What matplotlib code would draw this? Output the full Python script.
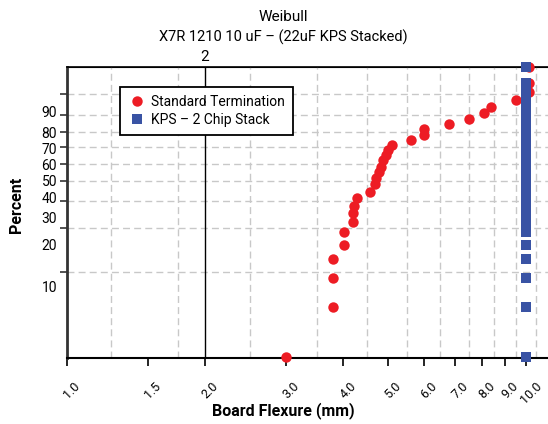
import numpy as np
import matplotlib.pyplot as plt
from matplotlib.ticker import NullFormatter, NullLocator
from matplotlib.transforms import ScaledTranslation

plt.rcParams['font.family'] = ['Roboto', 'DejaVu Sans']

# Median-rank percent values (same ranks used for both series)
percent = [3.03, 7.16, 11.54, 15.74, 19.80, 24.12, 28.05, 32.02, 35.68, 39.83,
           43.17, 47.63, 51.10, 54.85, 58.43, 62.76, 66.00, 69.21, 72.40, 75.47,
           78.46, 81.68, 84.34, 86.80, 89.47, 92.03, 94.19, 96.16, 97.90, 99.40]

# Board flexure at failure (mm)
std_flex = [3.00, 3.80, 3.80, 3.80, 4.01, 4.01, 4.20, 4.20, 4.21, 4.29,
            4.58, 4.68, 4.70, 4.78, 4.83, 4.88, 4.95, 4.99, 5.11, 5.61,
            5.99, 5.99, 6.80, 7.52, 8.11, 8.36, 9.52, 10.15, 10.15, 10.15]
kps_flex = [10.0, 10.0, 10.0, 10.0, 10.0, 10.0, 10.0, 10.0, 10.0, 10.0,
            10.0, 10.0, 10.0, 10.0, 10.0, 10.0, 10.0, 10.0, 10.0, 10.0,
            10.0, 10.0, 10.0, 10.0, 10.0, 10.0, 10.0, 10.0, 10.0, 10.0]

x_ticks = [1.0, 1.5, 2.0, 3.0, 4.0, 5.0, 6.0, 7.0, 8.0, 9.0, 10.0]
x_grid = [1.25, 1.5, 1.75, 2.5, 3.0, 3.5, 4.0, 4.5, 5.0, 5.5, 6.0, 6.5,
          7.0, 7.5, 8.0, 8.5, 9.0, 9.5, 10.0, 10.5]
y_labels = [10, 20, 30, 40, 50, 60, 70, 80, 90]
y_grid = [12.9, 25.8, 37.8, 49.7, 60.2, 71.1, 80.2, 88.8, 95.7]


def weib(p):
    p = np.clip(np.asarray(p, float) / 100.0, 1e-9, 1 - 1e-9)
    return np.log(-np.log(1 - p))


def weib_inv(w):
    return 100.0 * (1 - np.exp(-np.exp(w)))


fig = plt.figure(figsize=(5.48, 4.24), dpi=100)
ax = fig.add_axes([66.7 / 548, 1 - 357.5 / 424, 1 - 66.7 / 548, (357.5 - 66.7) / 424])

ax.set_xscale('log')
ax.set_yscale('function', functions=(weib, weib_inv))
ax.set_xlim(1.0, 11.15)
ax.set_ylim(2.986, 99.40)

# grid
ax.set_xticks(x_grid, minor=True)
ax.xaxis.set_minor_formatter(NullFormatter())
ax.set_yticks(y_grid)
ax.set_yticklabels([])
ax.set_yticks(y_labels, [str(v) for v in y_labels], minor=True)
ax.grid(True, which='minor', axis='x', color='#c8c8c8', ls=(0, (5, 3)), lw=1)
ax.grid(True, which='major', axis='y', color='#c8c8c8', ls=(0, (5, 3)), lw=1)
ax.axvline(2.0, color='black', lw=1, zorder=2)

ax.set_xticks(x_ticks, ['%.1f' % v for v in x_ticks])
ax.tick_params(axis='x', which='major', length=6, width=1.2, labelsize=9, pad=10,
               labelrotation=45)
ax.tick_params(axis='x', which='minor', length=0)
for lbl in ax.get_xticklabels():
    lbl.set_ha('center')
    lbl.set_transform(lbl.get_transform() + ScaledTranslation(5 / 100, 0, fig.dpi_scale_trans))
ax.tick_params(axis='y', which='major', length=5, width=1.2, color='#333333')
ax.tick_params(axis='y', which='minor', length=0, labelsize=10, pad=7)

ax.spines['right'].set_visible(False)
ax.spines['left'].set_linewidth(2)
ax.spines['left'].set_color('#333333')
ax.spines['bottom'].set_linewidth(1.5)
ax.spines['top'].set_linewidth(1.2)

# top marker at 2
top = ax.secondary_xaxis('top')
top.set_xticks([2.0], ['2'])
top.tick_params(length=0, labelsize=11, pad=2)
top.xaxis.set_minor_locator(NullLocator())
top.xaxis.set_minor_formatter(NullFormatter())

ax.plot(std_flex, percent, 'o', color='#ED1C24', ms=7.5, mew=0,
        label='Standard Termination', clip_on=False, zorder=4)
ax.plot(kps_flex, percent, 's', color='#3953A4', ms=6.5, mew=0,
        label='KPS \u2013 2 Chip Stack', clip_on=False, zorder=5)

leg = ax.legend(loc='upper left', bbox_to_anchor=(120 / 548, 1 - 87 / 424),
                bbox_transform=fig.transFigure, borderaxespad=0, fontsize=10,
                fancybox=False, edgecolor='black', framealpha=1, borderpad=0.6,
                handletextpad=0.3, labelspacing=0.25, handlelength=1.3)
leg.get_frame().set_linewidth(1.3)

fig.text(283 / 548, 1 - 17 / 424, 'Weibull', ha='center', va='center', fontsize=11)
fig.text(283 / 548, 1 - 37 / 424, 'X7R 1210 10 uF \u2013 (22uF KPS Stacked)',
         ha='center', va='center', fontsize=10.5)
fig.text(283 / 548, 1 - 411 / 424, 'Board Flexure (mm)', ha='center', va='center',
         fontsize=11.5, fontweight='bold')
fig.text(17 / 548, 1 - 205 / 424, 'Percent', ha='center', va='center',
         fontsize=11.5, fontweight='bold', rotation=90)

fig.savefig('out.png', dpi=100)
